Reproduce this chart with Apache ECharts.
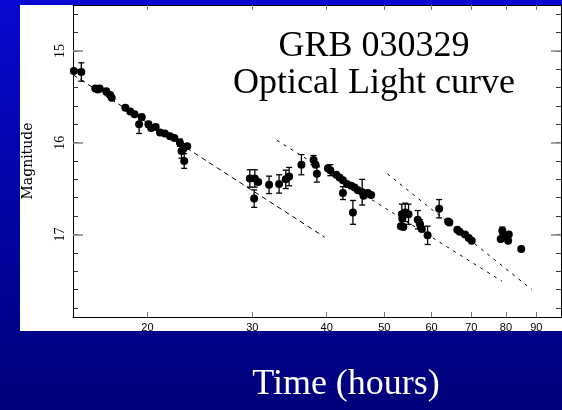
<!DOCTYPE html>
<html>
<head>
<meta charset="utf-8">
<script src="https://cdn.jsdelivr.net/npm/echarts@6/dist/echarts.min.js"></script>
<style>
  html, body { margin: 0; padding: 0; }
  #chart { width: 562px; height: 410px; }
</style>
</head>
<body>
<div id="chart"></div>
<script>
// observed points: time since burst (hours), magnitude, error (0 = bar hidden under the dot)
const hours = [15.05, 15.49, 16.35, 16.52, 16.63, 17.06, 17.32, 17.42, 18.37, 18.72,
  19.03, 19.57, 19.37, 20.08, 20.29, 20.65, 21.0, 21.4, 21.83, 22.2,
  22.68, 22.82, 22.97, 23.33, 23.06, 29.72, 30.3, 30.7, 30.22, 32.02,
  33.28, 34.15, 34.6, 36.28, 38.03, 38.32, 38.52, 40.2, 40.57, 41.52,
  42.05, 42.6, 42.6, 43.27, 44.0, 44.57, 45.14, 44.28, 45.9, 46.14,
  46.91, 47.52, 53.5, 54.2, 54.9, 53.3, 53.8, 53.6, 56.9, 57.4,
  57.8, 59.1, 61.8, 64.0, 64.3, 66.3, 66.9, 68.3, 69.3, 70.1,
  78.9, 78.4, 79.9, 80.7, 80.9, 84.9];
const mags = [15.22, 15.23, 15.41, 15.42, 15.41, 15.44, 15.48, 15.51, 15.62, 15.66,
  15.69, 15.72, 15.80, 15.80, 15.84, 15.83, 15.89, 15.90, 15.93, 15.95,
  16.00, 16.09, 16.07, 16.04, 16.20, 16.39, 16.39, 16.43, 16.61, 16.46,
  16.45, 16.40, 16.37, 16.24, 16.19, 16.24, 16.34, 16.28, 16.30, 16.35,
  16.38, 16.41, 16.55, 16.45, 16.47, 16.49, 16.52, 16.76, 16.54, 16.58,
  16.55, 16.57, 16.78, 16.76, 16.78, 16.91, 16.92, 16.83, 16.84, 16.89,
  16.94, 17.01, 16.72, 16.86, 16.87, 16.95, 16.97, 17.00, 17.04, 17.07,
  16.96, 17.05, 17.02, 17.07, 17.00, 17.16];
const errs = [0, 0.10, 0, 0, 0, 0, 0, 0, 0, 0,
  0, 0, 0.10, 0.03, 0, 0, 0, 0, 0, 0,
  0.04, 0.08, 0, 0, 0.08, 0.095, 0.095, 0, 0.095, 0.095,
  0.10, 0.10, 0.10, 0.11, 0.05, 0, 0.09, 0, 0.06, 0,
  0, 0, 0.07, 0, 0, 0, 0, 0.13, 0.14, 0,
  0, 0, 0.11, 0.10, 0.11, 0, 0, 0, 0.10, 0.05,
  0, 0.10, 0.10, 0, 0, 0, 0, 0, 0, 0,
  0.04, 0, 0, 0, 0, 0];

// power-law decay segments (dashed)
const fit1Hours = [15.0, 39.7];
const fit1Mags = [15.26, 17.03];
const fit2Hours = [33.0, 78.8];
const fit2Mags = [15.975, 17.51];
const fit3Hours = [50.6, 88.4];
const fit3Mags = [16.34, 17.60];

const xTickValues = [20, 30, 40, 50, 60, 70, 80, 90];
const yLabelValues = [15, 16, 17];
const yMinorValues = [14.6, 14.8, 15.0, 15.2, 15.4, 15.6, 15.8, 16.0, 16.2, 16.4, 16.6,
  16.8, 17.0, 17.2, 17.4, 17.6, 17.8];

const points = hours.map((h, i) => [h, mags[i], errs[i]]);
const fitData = (hs, ms) => hs.map((h, i) => [h, ms[i]]);

const chart = echarts.init(document.getElementById('chart'));

function errorBar(params, api) {
    const err = api.value(2);
    if (!err) return null;
    const x = api.value(0);
    const y = api.value(1);
    const top = api.coord([x, y - err]);
    const bot = api.coord([x, y + err]);
    const style = { stroke: '#000', lineWidth: 1.3 };
    return {
        type: 'group',
        children: [
            { type: 'line', shape: { x1: top[0], y1: top[1], x2: bot[0], y2: bot[1] }, style },
            { type: 'line', shape: { x1: top[0] - 3, y1: top[1], x2: top[0] + 3, y2: top[1] }, style },
            { type: 'line', shape: { x1: bot[0] - 3, y1: bot[1], x2: bot[0] + 3, y2: bot[1] }, style }
        ]
    };
}

const gridBox = { left: 73, right: 1, top: 5, bottom: 93, containLabel: false, outerBoundsMode: 'none' };

const xCommon = {
    type: 'log',
    logBase: 10,
    min: 15,
    max: 99,
    splitLine: { show: false },
    axisLine: { show: true, onZero: false, lineStyle: { color: '#000', width: 1 } },
    axisTick: { show: true, inside: true, length: 5, customValues: xTickValues, lineStyle: { color: '#777' } },
    minorTick: { show: false }
};

const yCommon = {
    type: 'value',
    inverse: true,
    min: 14.5,
    max: 17.9,
    splitLine: { show: false },
    axisLine: { show: true, lineStyle: { color: '#000', width: 1 } },
    axisTick: { show: true, inside: true, length: 5, customValues: yMinorValues, lineStyle: { color: '#333' } }
};

const yMajor = Object.assign({}, yCommon, {
    gridIndex: 1,
    axisLine: { show: false },
    axisLabel: { show: false },
    axisTick: { show: true, inside: true, length: 10, customValues: yLabelValues, lineStyle: { color: '#888', width: 1.5 } }
});

const titleFont = '36px "Liberation Serif", "Times New Roman", serif';

const option = {
    animation: false,
    graphic: [
        {
            type: 'rect', z: -20, silent: true,
            shape: { x: 0, y: 0, width: 562, height: 410 },
            style: {
                fill: new echarts.graphic.LinearGradient(0, 0, 0, 1, [
                    { offset: 0, color: '#0808d0' },
                    { offset: 1, color: '#00007a' }
                ])
            }
        },
        {
            type: 'rect', z: -10, silent: true,
            shape: { x: 20, y: 5, width: 542, height: 326 },
            style: { fill: '#fff' }
        },
        {
            type: 'text', z: 20, silent: true,
            style: { text: 'GRB 030329', x: 374, y: 29, align: 'center', verticalAlign: 'top', font: titleFont, fill: '#000' }
        },
        {
            type: 'text', z: 20, silent: true,
            style: { text: 'Optical Light curve', x: 374, y: 66, align: 'center', verticalAlign: 'top', font: titleFont, fill: '#000' }
        },
        {
            type: 'text', z: 20, silent: true,
            style: {
                text: 'Time (hours)', x: 346, y: 367, align: 'center', verticalAlign: 'top',
                font: '36px "Liberation Serif", "Times New Roman", serif', fill: '#fff'
            }
        }
    ],
    grid: [gridBox, Object.assign({}, gridBox)],
    xAxis: [
        Object.assign({}, xCommon, {
            position: 'bottom',
            axisLabel: {
                customValues: xTickValues,
                margin: 5,
                fontSize: 11,
                fontFamily: '"Liberation Sans", Arial, sans-serif',
                color: '#000',
                formatter: v => String(Math.round(v))
            }
        }),
        Object.assign({}, xCommon, {
            position: 'top',
            axisLabel: { show: false }
        }),
        Object.assign({}, xCommon, { gridIndex: 1, show: false })
    ],
    yAxis: [
        Object.assign({}, yCommon, {
            position: 'left',
            name: 'Magnitude',
            nameLocation: 'middle',
            nameRotate: 90,
            nameGap: 38,
            nameTextStyle: { fontSize: 14, fontFamily: '"DejaVu Serif", serif', color: '#000' },
            axisLabel: {
                customValues: yLabelValues,
                rotate: 90,
                margin: 6,
                fontSize: 14,
                fontFamily: '"Liberation Serif", serif',
                color: '#000',
                formatter: v => String(v)
            }
        }),
        Object.assign({}, yCommon, {
            position: 'right',
            axisLabel: { show: false }
        }),
        Object.assign({}, yMajor, { position: 'left' }),
        Object.assign({}, yMajor, { position: 'right' })
    ],
    series: [
        {
            type: 'line', data: fitData(fit1Hours, fit1Mags), symbol: 'none',
            lineStyle: { color: '#000', width: 1, type: [5, 4] }, silent: true
        },
        {
            type: 'line', data: fitData(fit2Hours, fit2Mags), symbol: 'none',
            lineStyle: { color: '#000', width: 1, type: [3, 5] }, silent: true
        },
        {
            type: 'line', data: fitData(fit3Hours, fit3Mags), symbol: 'none',
            lineStyle: { color: '#000', width: 1, type: [3, 5] }, silent: true
        },
        {
            type: 'custom', data: points, renderItem: errorBar,
            encode: { x: 0, y: 1 }, clip: true, z: 3
        },
        {
            type: 'scatter', data: points, symbol: 'circle', symbolSize: 8,
            itemStyle: { color: '#000', opacity: 1 }, encode: { x: 0, y: 1 }, clip: true, z: 4
        }
    ]
};

chart.setOption(option);
</script>
</body>
</html>
